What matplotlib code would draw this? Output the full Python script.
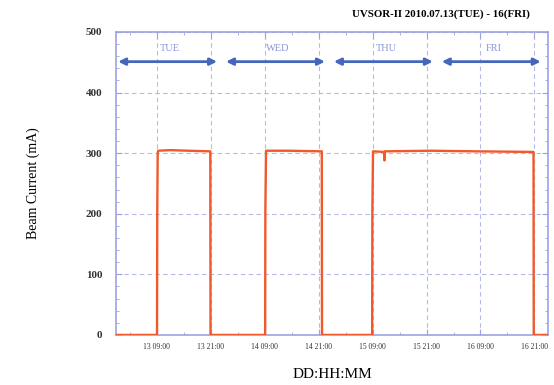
"""Beam current trend, UVSOR-II week of 2010.07.13 - 16."""
import matplotlib
matplotlib.use("Agg")
import matplotlib.pyplot as plt
from matplotlib.ticker import FixedLocator, MultipleLocator

plt.rcParams["font.family"] = ["Liberation Serif", "DejaVu Serif"]

# hours counted from 13 00:00
hours = [0.0, 9.05, 9.1, 9.2, 9.3, 12.0, 16.0, 20.9, 20.95, 33.1, 33.15, 33.3,
         38.0, 45.7, 45.75, 56.9, 56.95, 57.1, 59.6, 59.65, 59.75, 70.0, 80.0,
         92.8, 92.85, 96.0]
current = [0, 0, 200, 300, 304, 305, 304, 303, 0, 0, 205, 304,
           304, 303, 0, 0, 205, 303, 302, 288, 303, 304, 303,
           302, 0, 0]

day_names = ["TUE", "WED", "THU", "FRI"]
day_edges = [0, 24, 48, 72, 96]
major_hours = [9, 21, 33, 45, 57, 69, 81, 93]
major_labels = ["13 09:00", "13 21:00", "14 09:00", "14 21:00",
                "15 09:00", "15 21:00", "16 09:00", "16 21:00"]
minor_hours = [3, 15, 27, 39, 51, 63, 75, 87]

AXIS_COL = "#9da3e2"
GRID_COL = "#b4b9ea"
ARROW_COL = "#4466bb"
LINE_COL = "#f05a2a"

fig = plt.figure(figsize=(5.54, 3.85), dpi=100)
ax = fig.add_axes([0.210, 0.130, 0.779, 0.787])

ax.plot(hours, current, color=LINE_COL, lw=1.7, zorder=3)

ax.set_xlim(0, 96)
ax.set_ylim(0, 500)
ax.xaxis.set_major_locator(FixedLocator(major_hours))
ax.xaxis.set_minor_locator(FixedLocator(minor_hours))
ax.set_xticklabels(major_labels, fontsize=5.5)
ax.yaxis.set_major_locator(MultipleLocator(100))
ax.yaxis.set_minor_locator(MultipleLocator(20))
for lab in ax.get_yticklabels():
    lab.set_fontsize(8)
    lab.set_fontweight("bold")

ax.tick_params(which="both", direction="in", top=True, right=True,
               color=AXIS_COL, labelcolor="#333333")
ax.tick_params(which="major", length=4, width=0.8)
ax.tick_params(which="minor", length=2, width=0.6)
ax.tick_params(axis="x", pad=6)
ax.tick_params(axis="y", pad=10)
for sp in ax.spines.values():
    sp.set_color(AXIS_COL)
    sp.set_linewidth(1.2)

ax.grid(True, which="major", color=GRID_COL, ls=(0, (4, 3)), lw=0.8)
ax.set_axisbelow(True)

# day arrows across the top
for name, start, end in zip(day_names, day_edges[:-1], day_edges[1:]):
    ax.annotate("", xy=(start + 0.4, 451), xytext=(end - 1.6, 451),
                arrowprops=dict(arrowstyle="<|-|>", color=ARROW_COL, lw=2.0,
                                mutation_scale=10, shrinkA=0, shrinkB=0))
    ax.text((start + end) / 2, 472, name, ha="center", va="center",
            fontsize=7.5, color="#8a96d6")

ax.set_ylabel("Beam Current (mA)", fontsize=10, labelpad=33)
ax.set_xlabel("DD:HH:MM", fontsize=11, labelpad=12)
fig.text(0.957, 0.962, "UVSOR-II 2010.07.13(TUE) - 16(FRI)", ha="right",
         va="center", fontsize=7.8, fontweight="bold")

fig.savefig("out.png", dpi=100)
